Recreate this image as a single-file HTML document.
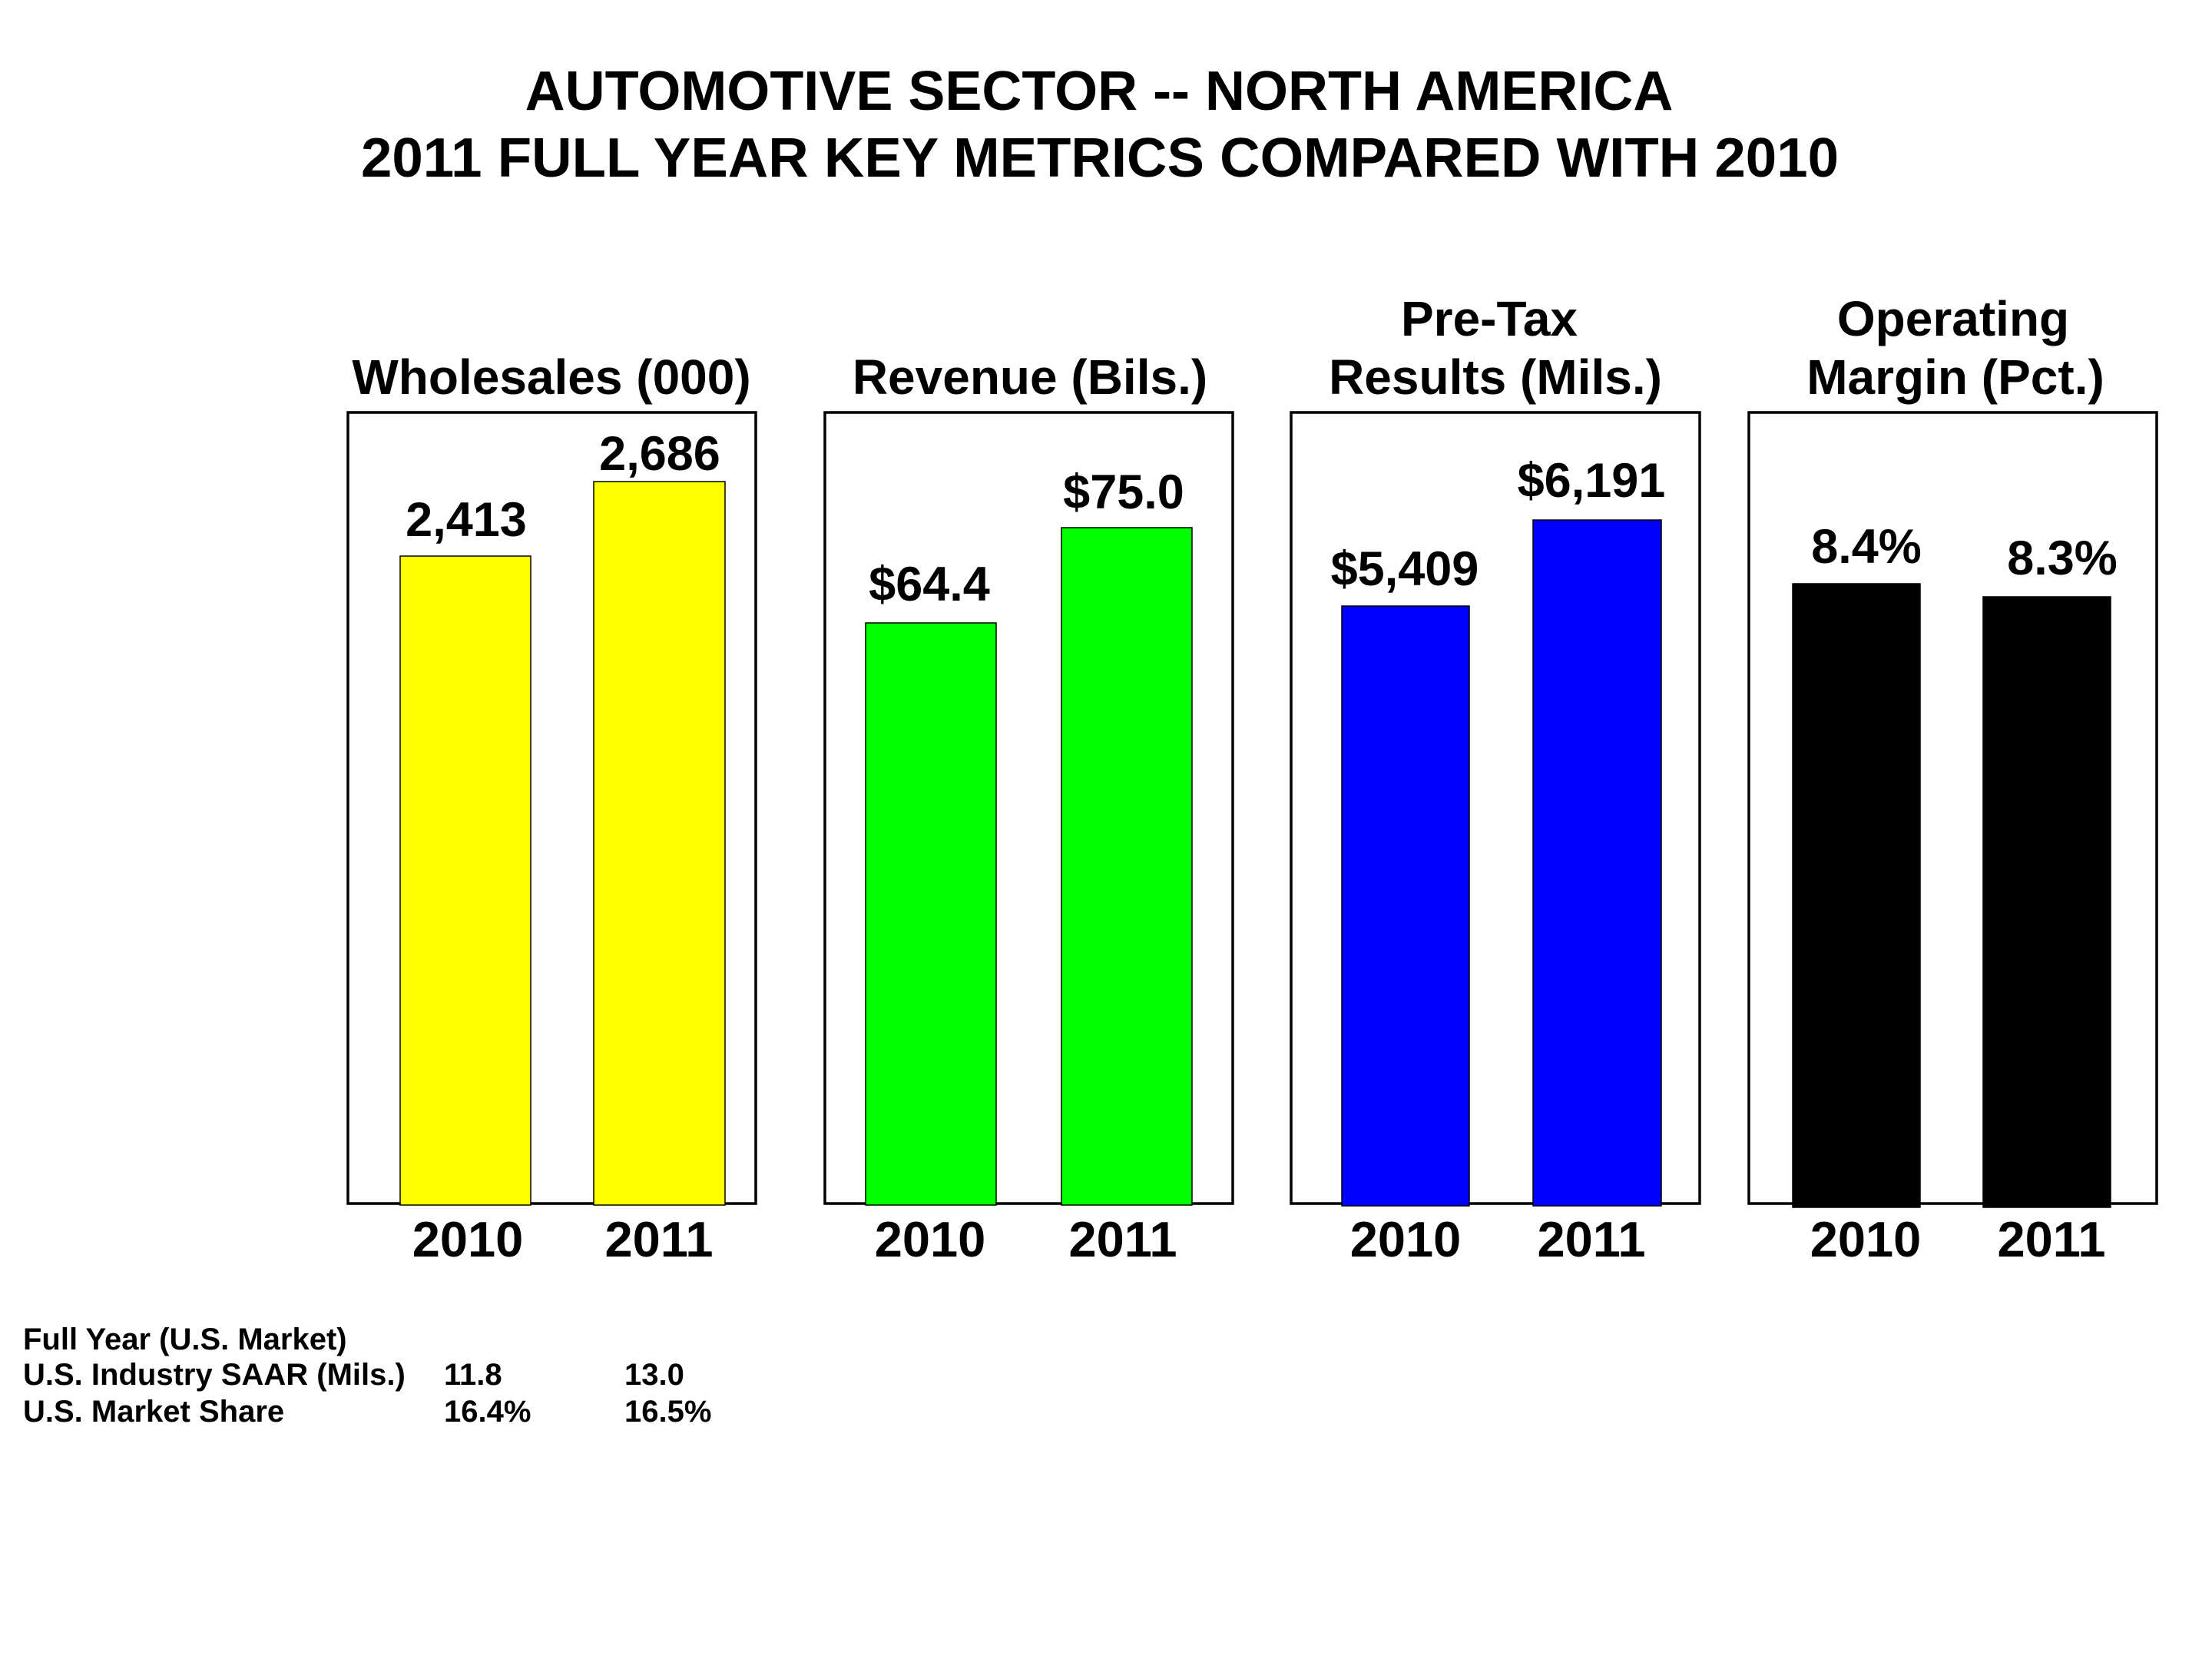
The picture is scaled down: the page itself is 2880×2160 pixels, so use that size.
<!DOCTYPE html>
<html>
<head>
<meta charset="utf-8">
<style>
  html, body { margin: 0; padding: 0; background: #ffffff; }
  body { width: 2880px; height: 2160px; overflow: hidden; }
  svg { display: block; }
  text { font-family: "Liberation Sans", Arial, sans-serif; font-weight: bold; fill: #000; }
</style>
</head>
<body>
<svg width="2880" height="2160" viewBox="0 0 2880 2160" xmlns="http://www.w3.org/2000/svg">
  <rect x="0" y="0" width="2880" height="2160" fill="#ffffff"/>

  <!-- Main title -->
  <text x="1431" y="143" font-size="72" text-anchor="middle">AUTOMOTIVE SECTOR -- NORTH AMERICA</text>
  <text x="1432" y="230" font-size="72" text-anchor="middle" textLength="1924" lengthAdjust="spacingAndGlyphs">2011 FULL YEAR KEY METRICS COMPARED WITH 2010</text>

  <!-- Panel titles -->
  <text x="718" y="513" font-size="64" text-anchor="middle">Wholesales (000)</text>
  <text x="1341" y="513" font-size="64" text-anchor="middle">Revenue (Bils.)</text>
  <text x="1939" y="437" font-size="64" text-anchor="middle">Pre-Tax</text>
  <text x="1947" y="513" font-size="64" text-anchor="middle">Results (Mils.)</text>
  <text x="2543" y="437" font-size="64" text-anchor="middle">Operating</text>
  <text x="2546" y="513" font-size="64" text-anchor="middle">Margin (Pct.)</text>

  <!-- Panel boxes -->
  <g fill="none" stroke="#000" stroke-width="3.5">
    <rect x="453" y="537" width="531" height="1030"/>
    <rect x="1074" y="537" width="531" height="1030"/>
    <rect x="1681" y="537" width="532" height="1030"/>
    <rect x="2277" y="537" width="531" height="1030"/>
  </g>

  <!-- Bars -->
  <g stroke="#000" stroke-width="1.5">
    <rect x="521" y="724" width="170" height="845" fill="#ffff00"/>
    <rect x="773" y="627" width="171" height="942" fill="#ffff00"/>
    <rect x="1127" y="811" width="170" height="758" fill="#00ff00"/>
    <rect x="1382" y="687" width="170" height="882" fill="#00ff00"/>
    <rect x="1747" y="789" width="166" height="781" fill="#0000ff"/>
    <rect x="1996" y="677" width="167" height="893" fill="#0000ff"/>
    <rect x="2334" y="760" width="166" height="812" fill="#000000"/>
    <rect x="2582" y="777" width="166" height="795" fill="#000000"/>
  </g>

  <!-- Value labels -->
  <text x="607" y="698" font-size="63" text-anchor="middle">2,413</text>
  <text x="859" y="612" font-size="63" text-anchor="middle">2,686</text>
  <text x="1210" y="782" font-size="63" text-anchor="middle">$64.4</text>
  <text x="1463" y="662" font-size="63" text-anchor="middle">$75.0</text>
  <text x="1829" y="762" font-size="63" text-anchor="middle">$5,409</text>
  <text x="2072" y="647" font-size="63" text-anchor="middle">$6,191</text>
  <text x="2430" y="733" font-size="63" text-anchor="middle">8.4%</text>
  <text x="2685" y="748" font-size="63" text-anchor="middle">8.3%</text>

  <!-- Year labels -->
  <g font-size="65" text-anchor="middle">
    <text x="609" y="1636">2010</text>
    <text x="858" y="1636">2011</text>
    <text x="1211" y="1636">2010</text>
    <text x="1462" y="1636">2011</text>
    <text x="1830" y="1636">2010</text>
    <text x="2072" y="1636">2011</text>
    <text x="2429" y="1636">2010</text>
    <text x="2671" y="1636">2011</text>
  </g>

  <!-- Footer table -->
  <g font-size="40">
    <text x="30" y="1757">Full Year (U.S. Market)</text>
    <text x="30" y="1803">U.S. Industry SAAR (Mils.)</text>
    <text x="578" y="1803">11.8</text>
    <text x="813" y="1803">13.0</text>
    <text x="30" y="1851">U.S. Market Share</text>
    <text x="578" y="1851">16.4%</text>
    <text x="813" y="1851">16.5%</text>
  </g>
</svg>
</body>
</html>
